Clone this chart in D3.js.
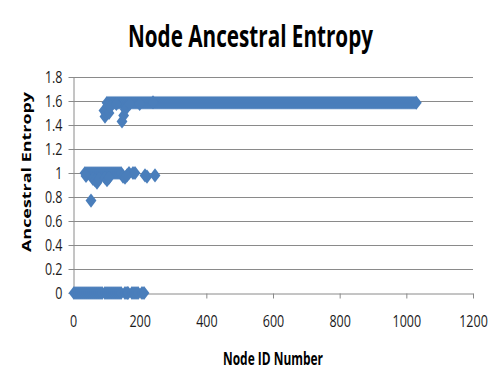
<!DOCTYPE html>
<html>
<head>
<meta charset="utf-8">
<script src="https://cdn.jsdelivr.net/npm/d3@7"></script>
<style>
  body { margin: 0; background: #fff; }
  svg { display: block; }
</style>
</head>
<body>
<div id="chart"></div>
<script>
// node ids sitting on each entropy level
var highIds = [
  102,108,114,120,126,132,138,144,150,156,162,168,174,180,186,192,198,204,210,216,
  222,228,234,240,246,252,258,264,270,276,282,288,294,300,306,312,318,324,330,336,
  342,348,354,360,366,372,378,384,390,396,402,408,414,420,426,432,438,444,450,456,
  462,468,474,480,486,492,498,504,510,516,522,528,534,540,546,552,558,564,570,576,
  582,588,594,600,606,612,618,624,630,636,642,648,654,660,666,672,678,684,690,696,
  702,708,714,720,726,732,738,744,750,756,762,768,774,780,786,792,798,804,810,816,
  822,828,834,840,846,852,858,864,870,876,882,888,894,900,906,912,918,924,930,936,
  942,948,954,960,966,972,978,984,990,996,1002,1008,1014,1020,1026,1030
];
var highValue = 1.585;

var midIds = [36,42,48,54,60,66,72,78,84,90,96,102,108,114,120,126,132,138,144,168,180];
var midValue = 1.0;

var zeroIds = [
  3,9,15,21,27,33,39,45,51,57,63,69,75,81,87,96,102,108,114,120,126,132,138,144,
  156,162,165,177,183,189,195,207,213
];
var zeroValue = 0;

// scattered points [node id, entropy]
var outliers = [
  [93,1.52],[96,1.47],[99,1.5],[102,1.53],[105,1.56],[108,1.5],[112,1.55],
  [147,1.43],[152,1.48],[157,1.53],[130,1.575],[170,1.575],[200,1.575],[240,1.59],
  [39,0.975],[54,0.77],[60,0.95],[66,0.94],[72,0.92],[78,0.95],[96,0.96],
  [102,0.94],[108,0.96],[150,0.97],[156,0.96],[162,0.98],[186,1.0],
  [216,0.98],[222,0.97],[246,0.98]
];

var xTicks = [0, 200, 400, 600, 800, 1000, 1200];
var yTicks = [0, 0.2, 0.4, 0.6, 0.8, 1, 1.2, 1.4, 1.6, 1.8];

var width = 490, height = 381;
var plotLeft = 73, plotRight = 473, plotTop = 77, plotBottom = 293;
var gridColor = "#8a8a8a";
var markColor = "#4a7ebb";

var x = d3.scaleLinear().domain([0, 1200]).range([plotLeft, plotRight]);
var y = d3.scaleLinear().domain([0, 1.8]).range([plotBottom, plotTop]);

var svg = d3.select("#chart").append("svg")
  .attr("width", width)
  .attr("height", height);

svg.append("rect").attr("width", width).attr("height", height).attr("fill", "#fff");

// squash text to the width it has in the picture
function fitText(sel, factor) {
  sel.each(function() {
    var len = this.getComputedTextLength();
    d3.select(this)
      .attr("textLength", len * factor)
      .attr("lengthAdjust", "spacingAndGlyphs");
  });
}

/* gridlines */
svg.append("g")
  .selectAll("line")
  .data(yTicks.filter(d => d > 0))
  .enter()
  .append("line")
  .attr("x1", plotLeft)
  .attr("x2", plotRight)
  .attr("y1", d => Math.round(y(d)) + 0.5)
  .attr("y2", d => Math.round(y(d)) + 0.5)
  .attr("stroke", gridColor)
  .attr("stroke-width", 1);

/* axes */
var yAxis = d3.axisLeft(y).tickValues(yTicks).tickSize(5).tickSizeOuter(0).tickPadding(6)
  .tickFormat(d => String(+d.toFixed(1)));
var xAxis = d3.axisBottom(x).tickValues(xTicks).tickSize(5).tickSizeOuter(0).tickPadding(17)
  .tickFormat(d3.format("d"));

var gy = svg.append("g")
  .attr("transform", "translate(" + (plotLeft + 0.5) + ",0)")
  .call(yAxis);

var gx = svg.append("g")
  .attr("transform", "translate(0," + (plotBottom + 0.5) + ")")
  .call(xAxis);

[gx, gy].forEach(function(g) {
  g.select(".domain").attr("stroke", gridColor);
  g.selectAll(".tick line").attr("stroke", gridColor);
  g.selectAll(".tick text")
    .attr("fill", "#1a1a1a")
    .style("font-family", "'Open Sans', sans-serif")
    .style("font-size", "16px")
    .call(fitText, 0.78);
});

/* marks */
var diamond = {
  draw: function(ctx, size) {
    var hw = Math.sqrt(size / 2.6), hh = hw * 1.3;
    ctx.moveTo(0, -hh);
    ctx.lineTo(hw, 0);
    ctx.lineTo(0, hh);
    ctx.lineTo(-hw, 0);
    ctx.closePath();
  }
};
var symbol = d3.symbol().type(diamond).size(76);

var points = []
  .concat(zeroIds.map(id => [id, zeroValue]))
  .concat(midIds.map(id => [id, midValue]))
  .concat(highIds.map(id => [id, highValue]))
  .concat(outliers);

svg.append("g")
  .attr("fill", markColor)
  .selectAll("path")
  .data(points)
  .enter()
  .append("path")
  .attr("transform", d => "translate(" + x(d[0]) + "," + y(d[1]) + ")")
  .attr("d", symbol);

/* titles */
svg.append("text")
  .attr("x", 250.5)
  .attr("y", 47)
  .attr("text-anchor", "middle")
  .style("font-family", "'Open Sans', sans-serif")
  .style("font-weight", "bold")
  .style("font-size", "30px")
  .attr("fill", "#000")
  .text("Node Ancestral Entropy")
  .attr("textLength", 245)
  .attr("lengthAdjust", "spacingAndGlyphs");

svg.append("text")
  .attr("x", 273)
  .attr("y", 365)
  .attr("text-anchor", "middle")
  .style("font-family", "'Open Sans', sans-serif")
  .style("font-weight", "bold")
  .style("font-size", "18px")
  .attr("fill", "#000")
  .text("Node ID Number")
  .attr("textLength", 100)
  .attr("lengthAdjust", "spacingAndGlyphs");

svg.append("text")
  .attr("transform", "translate(31,172) rotate(-90)")
  .attr("text-anchor", "middle")
  .style("font-family", "'Open Sans', sans-serif")
  .style("font-weight", "bold")
  .style("font-size", "13px")
  .attr("fill", "#000")
  .text("Ancestral Entropy")
  .attr("textLength", 160)
  .attr("lengthAdjust", "spacingAndGlyphs");
</script>
</body>
</html>
